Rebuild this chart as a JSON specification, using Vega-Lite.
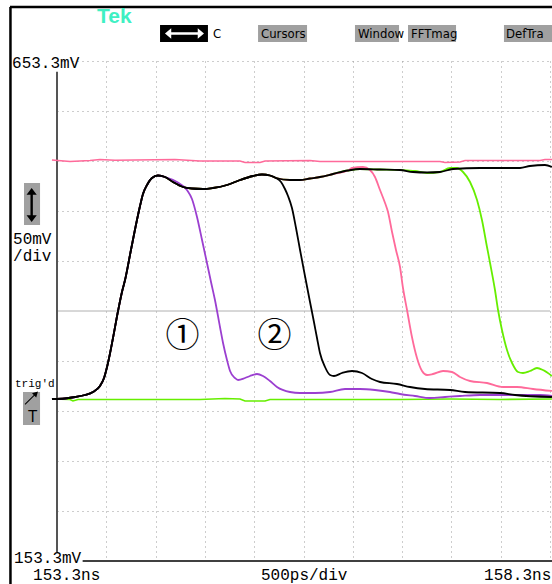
{
  "$schema": "https://vega.github.io/schema/vega-lite/v6.json",
  "width": 493,
  "height": 500,
  "autosize": {"type": "none"},
  "padding": {"left": 57, "top": 61, "right": 2, "bottom": 23},
  "background": "#ffffff",
  "config": {"view": {"stroke": null}},
  "datasets": {
    "ref_top": [
      {"t": 153.249, "v": 554.3}, {"t": 153.432, "v": 552.8}, {"t": 153.635, "v": 553.8}, {"t": 153.736, "v": 554.8},
      {"t": 153.888, "v": 554.0}, {"t": 154.497, "v": 554.8}, {"t": 154.75, "v": 553.3}, {"t": 155.156, "v": 553.3},
      {"t": 155.207, "v": 551.8}, {"t": 155.359, "v": 551.8}, {"t": 155.41, "v": 553.3}, {"t": 155.866, "v": 553.8},
      {"t": 155.967, "v": 552.8}, {"t": 157.184, "v": 552.8}, {"t": 157.235, "v": 551.8}, {"t": 157.387, "v": 552.3},
      {"t": 157.438, "v": 553.8}, {"t": 158.199, "v": 553.8}, {"t": 158.249, "v": 554.8}, {"t": 158.32, "v": 554.8}
    ],
    "ref_base": [
      {"t": 153.249, "v": 315.3}, {"t": 153.432, "v": 314.8}, {"t": 153.462, "v": 313.3}, {"t": 153.513, "v": 314.8},
      {"t": 154.75, "v": 314.8}, {"t": 155.004, "v": 315.8}, {"t": 155.156, "v": 315.3}, {"t": 155.207, "v": 313.3},
      {"t": 155.41, "v": 313.3}, {"t": 155.46, "v": 314.8}, {"t": 156.272, "v": 314.8}, {"t": 156.779, "v": 314.8},
      {"t": 157.286, "v": 315.3}, {"t": 157.793, "v": 314.8}, {"t": 158.32, "v": 315.3}
    ],
    "p1": [
      {"t": 153.249, "v": 315.3}, {"t": 153.381, "v": 315.8}, {"t": 153.483, "v": 317.3}, {"t": 153.584, "v": 319.3},
      {"t": 153.665, "v": 322.3}, {"t": 153.736, "v": 328.3}, {"t": 153.777, "v": 336.3}, {"t": 153.817, "v": 351.3},
      {"t": 153.868, "v": 376.3}, {"t": 153.919, "v": 403.3}, {"t": 153.959, "v": 422.3}, {"t": 153.99, "v": 434.3},
      {"t": 154.05, "v": 464.3}, {"t": 154.111, "v": 494.3}, {"t": 154.142, "v": 508.3}, {"t": 154.172, "v": 520.3},
      {"t": 154.213, "v": 529.3}, {"t": 154.263, "v": 536.3}, {"t": 154.324, "v": 538.8},
      {"t": 154.395, "v": 537.3}, {"t": 154.517, "v": 532.3}, {"t": 154.618, "v": 524.3}, {"t": 154.669, "v": 515.3},
      {"t": 154.72, "v": 497.3}, {"t": 154.771, "v": 474.3}, {"t": 154.821, "v": 451.3}, {"t": 154.862, "v": 432.3},
      {"t": 154.902, "v": 414.3}, {"t": 154.953, "v": 387.3}, {"t": 154.984, "v": 371.3}, {"t": 155.024, "v": 354.3},
      {"t": 155.055, "v": 343.3}, {"t": 155.105, "v": 336.3}, {"t": 155.136, "v": 334.3}, {"t": 155.207, "v": 336.3},
      {"t": 155.257, "v": 338.3}, {"t": 155.328, "v": 340.3}, {"t": 155.389, "v": 338.3}, {"t": 155.46, "v": 333.3},
      {"t": 155.531, "v": 327.3}, {"t": 155.663, "v": 322.3}, {"t": 155.765, "v": 321.3}, {"t": 155.917, "v": 321.3},
      {"t": 156.069, "v": 322.3}, {"t": 156.221, "v": 325.3}, {"t": 156.373, "v": 325.3}, {"t": 156.525, "v": 324.3},
      {"t": 156.677, "v": 322.3}, {"t": 156.779, "v": 320.3}, {"t": 156.931, "v": 318.3}, {"t": 157.083, "v": 316.3},
      {"t": 157.235, "v": 317.3}, {"t": 157.387, "v": 318.3}, {"t": 157.59, "v": 319.3}, {"t": 157.793, "v": 319.3},
      {"t": 157.996, "v": 319.3}, {"t": 158.199, "v": 319.3}, {"t": 158.32, "v": 318.3}
    ],
    "p2": [
      {"t": 153.249, "v": 315.3}, {"t": 153.381, "v": 315.8}, {"t": 153.483, "v": 317.3}, {"t": 153.584, "v": 319.3},
      {"t": 153.665, "v": 322.3}, {"t": 153.736, "v": 328.3}, {"t": 153.777, "v": 336.3}, {"t": 153.817, "v": 351.3},
      {"t": 153.868, "v": 376.3}, {"t": 153.919, "v": 403.3}, {"t": 153.959, "v": 422.3}, {"t": 153.99, "v": 434.3},
      {"t": 154.05, "v": 464.3}, {"t": 154.111, "v": 494.3}, {"t": 154.142, "v": 508.3}, {"t": 154.172, "v": 520.3},
      {"t": 154.213, "v": 529.3}, {"t": 154.263, "v": 536.3}, {"t": 154.324, "v": 538.8},
      {"t": 154.395, "v": 537.3}, {"t": 154.476, "v": 532.3}, {"t": 154.578, "v": 527.3}, {"t": 154.669, "v": 525.8},
      {"t": 154.781, "v": 525.3}, {"t": 154.882, "v": 526.3}, {"t": 155.024, "v": 529.3}, {"t": 155.156, "v": 534.3},
      {"t": 155.288, "v": 538.3}, {"t": 155.379, "v": 539.8}, {"t": 155.46, "v": 538.8}, {"t": 155.521, "v": 536.3},
      {"t": 155.572, "v": 532.3}, {"t": 155.612, "v": 525.3}, {"t": 155.643, "v": 518.3}, {"t": 155.683, "v": 506.3},
      {"t": 155.724, "v": 486.3}, {"t": 155.765, "v": 464.3}, {"t": 155.815, "v": 438.3}, {"t": 155.866, "v": 412.3},
      {"t": 155.906, "v": 392.3}, {"t": 155.937, "v": 376.3}, {"t": 155.967, "v": 361.3}, {"t": 156.018, "v": 347.3},
      {"t": 156.069, "v": 339.3}, {"t": 156.109, "v": 338.3}, {"t": 156.19, "v": 341.3}, {"t": 156.292, "v": 343.3},
      {"t": 156.393, "v": 341.3}, {"t": 156.494, "v": 335.3}, {"t": 156.576, "v": 332.3}, {"t": 156.748, "v": 330.3},
      {"t": 156.88, "v": 327.3}, {"t": 157.032, "v": 325.3}, {"t": 157.286, "v": 324.3}, {"t": 157.438, "v": 322.3},
      {"t": 157.793, "v": 321.3}, {"t": 157.945, "v": 319.3}, {"t": 158.32, "v": 317.3}
    ],
    "p3": [
      {"t": 153.249, "v": 315.3}, {"t": 153.381, "v": 315.8}, {"t": 153.483, "v": 317.3}, {"t": 153.584, "v": 319.3},
      {"t": 153.665, "v": 322.3}, {"t": 153.736, "v": 328.3}, {"t": 153.777, "v": 336.3}, {"t": 153.817, "v": 351.3},
      {"t": 153.868, "v": 376.3}, {"t": 153.919, "v": 403.3}, {"t": 153.959, "v": 422.3}, {"t": 153.99, "v": 434.3},
      {"t": 154.05, "v": 464.3}, {"t": 154.111, "v": 494.3}, {"t": 154.142, "v": 508.3}, {"t": 154.172, "v": 520.3},
      {"t": 154.213, "v": 529.3}, {"t": 154.263, "v": 536.3}, {"t": 154.324, "v": 538.8},
      {"t": 154.395, "v": 537.3}, {"t": 154.476, "v": 532.3}, {"t": 154.578, "v": 527.3}, {"t": 154.669, "v": 525.8},
      {"t": 154.781, "v": 525.3}, {"t": 154.882, "v": 526.3}, {"t": 155.024, "v": 529.3}, {"t": 155.156, "v": 534.3},
      {"t": 155.288, "v": 538.3}, {"t": 155.379, "v": 539.8}, {"t": 155.46, "v": 538.8}, {"t": 155.521, "v": 536.3},
      {"t": 155.663, "v": 534.3}, {"t": 155.765, "v": 534.3}, {"t": 155.866, "v": 535.8}, {"t": 155.967, "v": 537.3},
      {"t": 156.099, "v": 540.3}, {"t": 156.251, "v": 543.8},
      {"t": 156.292, "v": 546.3}, {"t": 156.403, "v": 547.3}, {"t": 156.474, "v": 544.3}, {"t": 156.525, "v": 537.3},
      {"t": 156.576, "v": 524.3}, {"t": 156.627, "v": 511.3}, {"t": 156.657, "v": 502.3}, {"t": 156.698, "v": 482.3},
      {"t": 156.738, "v": 464.3}, {"t": 156.779, "v": 447.3}, {"t": 156.809, "v": 426.3}, {"t": 156.85, "v": 404.3},
      {"t": 156.9, "v": 377.3}, {"t": 156.951, "v": 356.3}, {"t": 157.002, "v": 343.3}, {"t": 157.053, "v": 339.3},
      {"t": 157.113, "v": 340.3}, {"t": 157.215, "v": 343.3}, {"t": 157.306, "v": 342.3}, {"t": 157.387, "v": 337.3},
      {"t": 157.489, "v": 333.3}, {"t": 157.661, "v": 331.3}, {"t": 157.823, "v": 327.3}, {"t": 157.965, "v": 327.3},
      {"t": 158.128, "v": 325.3}, {"t": 158.32, "v": 323.3}
    ],
    "p4": [
      {"t": 153.249, "v": 315.3}, {"t": 153.381, "v": 315.8}, {"t": 153.483, "v": 317.3}, {"t": 153.584, "v": 319.3},
      {"t": 153.665, "v": 322.3}, {"t": 153.736, "v": 328.3}, {"t": 153.777, "v": 336.3}, {"t": 153.817, "v": 351.3},
      {"t": 153.868, "v": 376.3}, {"t": 153.919, "v": 403.3}, {"t": 153.959, "v": 422.3}, {"t": 153.99, "v": 434.3},
      {"t": 154.05, "v": 464.3}, {"t": 154.111, "v": 494.3}, {"t": 154.142, "v": 508.3}, {"t": 154.172, "v": 520.3},
      {"t": 154.213, "v": 529.3}, {"t": 154.263, "v": 536.3}, {"t": 154.324, "v": 538.8},
      {"t": 154.395, "v": 537.3}, {"t": 154.476, "v": 532.3}, {"t": 154.578, "v": 527.3}, {"t": 154.669, "v": 525.8},
      {"t": 154.781, "v": 525.3}, {"t": 154.882, "v": 526.3}, {"t": 155.024, "v": 529.3}, {"t": 155.156, "v": 534.3},
      {"t": 155.288, "v": 538.3}, {"t": 155.379, "v": 539.8}, {"t": 155.46, "v": 538.8}, {"t": 155.521, "v": 536.3},
      {"t": 155.663, "v": 534.3}, {"t": 155.765, "v": 534.3}, {"t": 155.866, "v": 535.8}, {"t": 155.967, "v": 537.3},
      {"t": 156.099, "v": 540.3}, {"t": 156.251, "v": 543.8},
      {"t": 156.373, "v": 545.3}, {"t": 156.576, "v": 544.8}, {"t": 156.779, "v": 544.3}, {"t": 156.931, "v": 543.3},
      {"t": 157.053, "v": 541.3}, {"t": 157.184, "v": 542.3}, {"t": 157.286, "v": 546.3}, {"t": 157.357, "v": 546.3},
      {"t": 157.418, "v": 542.3}, {"t": 157.489, "v": 532.3}, {"t": 157.56, "v": 514.3}, {"t": 157.61, "v": 494.3},
      {"t": 157.661, "v": 467.3}, {"t": 157.692, "v": 451.3}, {"t": 157.742, "v": 424.3}, {"t": 157.773, "v": 404.3},
      {"t": 157.813, "v": 384.3}, {"t": 157.864, "v": 364.3}, {"t": 157.915, "v": 351.3}, {"t": 157.976, "v": 342.3},
      {"t": 158.026, "v": 341.3}, {"t": 158.097, "v": 343.3}, {"t": 158.168, "v": 346.3}, {"t": 158.229, "v": 344.3},
      {"t": 158.32, "v": 338.3}
    ],
    "p5": [
      {"t": 153.249, "v": 315.3}, {"t": 153.381, "v": 315.8}, {"t": 153.483, "v": 317.3}, {"t": 153.584, "v": 319.3},
      {"t": 153.665, "v": 322.3}, {"t": 153.736, "v": 328.3}, {"t": 153.777, "v": 336.3}, {"t": 153.817, "v": 351.3},
      {"t": 153.868, "v": 376.3}, {"t": 153.919, "v": 403.3}, {"t": 153.959, "v": 422.3}, {"t": 153.99, "v": 434.3},
      {"t": 154.05, "v": 464.3}, {"t": 154.111, "v": 494.3}, {"t": 154.142, "v": 508.3}, {"t": 154.172, "v": 520.3},
      {"t": 154.213, "v": 529.3}, {"t": 154.263, "v": 536.3}, {"t": 154.324, "v": 538.8},
      {"t": 154.395, "v": 537.3}, {"t": 154.476, "v": 532.3}, {"t": 154.578, "v": 527.3}, {"t": 154.669, "v": 525.8},
      {"t": 154.781, "v": 525.3}, {"t": 154.882, "v": 526.3}, {"t": 155.024, "v": 529.3}, {"t": 155.156, "v": 534.3},
      {"t": 155.288, "v": 538.3}, {"t": 155.379, "v": 539.8}, {"t": 155.46, "v": 538.8}, {"t": 155.521, "v": 536.3},
      {"t": 155.663, "v": 534.3}, {"t": 155.765, "v": 534.3}, {"t": 155.866, "v": 535.8}, {"t": 155.967, "v": 537.3},
      {"t": 156.099, "v": 540.3}, {"t": 156.251, "v": 543.8},
      {"t": 156.373, "v": 545.3}, {"t": 156.576, "v": 544.8}, {"t": 156.779, "v": 544.3}, {"t": 156.91, "v": 542.3},
      {"t": 157.053, "v": 541.8}, {"t": 157.184, "v": 542.3}, {"t": 157.316, "v": 545.3}, {"t": 157.59, "v": 546.3},
      {"t": 157.996, "v": 546.3}, {"t": 158.097, "v": 548.3}, {"t": 158.249, "v": 549.3}, {"t": 158.32, "v": 547.3}
    ],
    "rules": [
      {"kind": "center", "t": 153.3, "t2": 158.3, "v": 403.3, "v2": 403.3},
      {"kind": "axis", "t": 153.3, "t2": 153.3, "v": 642.6, "v2": 162.3},
      {"kind": "base", "t": 153.56, "t2": 158.4, "v": 153.3, "v2": 153.3},
      {"kind": "frame", "t": 152.823, "t2": 158.4, "v": 707.3, "v2": 707.3},
      {"kind": "frame", "t": 152.828, "t2": 152.828, "v": 707.3, "v2": 100}
    ],
    "boxes": [
      {"kind": "menu", "t": 155.339, "t2": 155.836, "v": 689.3, "v2": 672.3},
      {"kind": "menu", "t": 156.322, "t2": 156.769, "v": 689.3, "v2": 672.3},
      {"kind": "menu", "t": 156.86, "t2": 157.347, "v": 689.3, "v2": 672.3},
      {"kind": "menu", "t": 157.833, "t2": 158.4, "v": 689.3, "v2": 672.3},
      {"kind": "menu", "t": 152.965, "t2": 153.128, "v": 531.3, "v2": 489.3},
      {"kind": "menu", "t": 152.955, "t2": 153.128, "v": 322.3, "v2": 289.3},
      {"kind": "select", "t": 154.345, "t2": 154.831, "v": 689.3, "v2": 672.3}
    ],
    "glyphs": [
      {"kind": "horizontal", "t": 154.593, "v": 680.8},
      {"kind": "vertical", "t": 153.043, "v": 509.3},
      {"kind": "diagonal", "t": 153.036, "v": 315.8}
    ],
    "labels": [
      {"kind": "scale", "text": "653.3mV", "t": 152.844, "v": 651.3},
      {"kind": "scale", "text": "153.3mV", "t": 152.864, "v": 156.8},
      {"kind": "scale", "text": "153.3ns", "t": 153.057, "v": 139.8},
      {"kind": "scale", "text": "500ps/div", "t": 155.369, "v": 139.8},
      {"kind": "scale", "text": "158.3ns", "t": 157.631, "v": 139.8},
      {"kind": "scale", "text": "50mV", "t": 152.854, "v": 475.8},
      {"kind": "scale", "text": "/div", "t": 152.854, "v": 458.6},
      {"kind": "small", "text": "trig'd", "t": 152.874, "v": 330.3},
      {"kind": "menu", "text": "C", "t": 154.882, "v": 680.3},
      {"kind": "menu", "text": "Cursors", "t": 155.369, "v": 680.8},
      {"kind": "menu", "text": "Window", "t": 156.353, "v": 680.8},
      {"kind": "menu", "text": "FFTmag", "t": 156.89, "v": 680.8},
      {"kind": "menu", "text": "DefTra", "t": 157.854, "v": 680.8},
      {"kind": "trigger", "text": "T", "t": 153.052, "v": 297.8},
      {"kind": "logo", "text": "Tek", "t": 153.706, "v": 697.3},
      {"kind": "marker", "text": "①", "t": 154.573, "v": 377.3},
      {"kind": "marker", "text": "②", "t": 155.506, "v": 377.3}
    ]
  },
  "encoding": {
    "x": {
      "field": "t",
      "type": "quantitative",
      "scale": {"domain": [153.3, 158.3], "nice": false, "zero": false},
      "axis": {
        "values": [153.8, 154.3, 154.8, 155.3, 155.8, 156.3, 156.8, 157.3, 157.8, 158.3],
        "grid": true, "gridDash": [1, 4], "gridColor": "#9a9a9a", "gridWidth": 1,
        "labels": false, "ticks": false, "domain": false, "title": null
      }
    },
    "y": {
      "field": "v",
      "type": "quantitative",
      "scale": {"domain": [153.3, 653.3], "nice": false, "zero": false},
      "axis": {
        "values": [203.3, 253.3, 303.3, 353.3, 453.3, 503.3, 553.3, 603.3, 653.3],
        "grid": true, "gridDash": [1, 4], "gridColor": "#9a9a9a", "gridWidth": 1,
        "labels": false, "ticks": false, "domain": false, "title": null
      }
    }
  },
  "layer": [
    {
      "data": {"name": "rules"},
      "transform": [{"filter": "datum.kind === 'center'"}],
      "mark": {"type": "rule", "color": "#b0b0b0", "strokeWidth": 1},
      "encoding": {"x2": {"field": "t2"}, "y2": {"field": "v2"}}
    },
    {
      "data": {"name": "rules"},
      "transform": [{"filter": "datum.kind === 'axis'"}],
      "mark": {"type": "rule", "color": "#555555", "strokeWidth": 2},
      "encoding": {"x2": {"field": "t2"}, "y2": {"field": "v2"}}
    },
    {
      "data": {"name": "rules"},
      "transform": [{"filter": "datum.kind === 'base'"}],
      "mark": {"type": "rule", "color": "#000000", "strokeWidth": 1.5},
      "encoding": {"x2": {"field": "t2"}, "y2": {"field": "v2"}}
    },
    {
      "data": {"name": "rules"},
      "transform": [{"filter": "datum.kind === 'frame'"}],
      "mark": {"type": "rule", "color": "#000000", "strokeWidth": 2.5},
      "encoding": {"x2": {"field": "t2"}, "y2": {"field": "v2"}}
    },
    {
      "data": {"name": "boxes"},
      "transform": [{"filter": "datum.kind === 'menu'"}],
      "mark": {"type": "rect", "color": "#a0a0a0"},
      "encoding": {"x2": {"field": "t2"}, "y2": {"field": "v2"}}
    },
    {
      "data": {"name": "boxes"},
      "transform": [{"filter": "datum.kind === 'select'"}],
      "mark": {"type": "rect", "color": "#000000"},
      "encoding": {"x2": {"field": "t2"}, "y2": {"field": "v2"}}
    },
    {
      "data": {"name": "glyphs"},
      "transform": [{"filter": "datum.kind === 'horizontal'"}],
      "mark": {
        "type": "point", "filled": true, "color": "#ffffff", "opacity": 1, "size": 1521,
        "shape": "M-1,0 L-0.68,-0.27 L-0.68,-0.07 L0.68,-0.07 L0.68,-0.27 L1,0 L0.68,0.27 L0.68,0.07 L-0.68,0.07 L-0.68,0.27 Z"
      }
    },
    {
      "data": {"name": "glyphs"},
      "transform": [{"filter": "datum.kind === 'vertical'"}],
      "mark": {
        "type": "point", "filled": true, "color": "#000000", "opacity": 1, "size": 1156,
        "shape": "M0,-1 L-0.3,-0.6 L-0.07,-0.6 L-0.07,0.6 L-0.3,0.6 L0,1 L0.3,0.6 L0.07,0.6 L0.07,-0.6 L0.3,-0.6 Z"
      }
    },
    {
      "data": {"name": "glyphs"},
      "transform": [{"filter": "datum.kind === 'diagonal'"}],
      "mark": {
        "type": "point", "filled": true, "color": "#000000", "opacity": 1, "size": 196,
        "shape": "M1,-1 L0.75,-0.15 L0.5,-0.4 L-0.8,0.9 L-0.9,0.8 L0.4,-0.5 L0.15,-0.75 Z"
      }
    },
    {
      "data": {"name": "labels"},
      "transform": [{"filter": "datum.kind === 'scale'"}],
      "mark": {"type": "text", "font": "Liberation Mono", "fontSize": 16, "align": "left", "baseline": "middle", "color": "#000000"},
      "encoding": {"text": {"field": "text"}}
    },
    {
      "data": {"name": "labels"},
      "transform": [{"filter": "datum.kind === 'small'"}],
      "mark": {"type": "text", "font": "Liberation Mono", "fontSize": 11, "align": "left", "baseline": "middle", "color": "#000000"},
      "encoding": {"text": {"field": "text"}}
    },
    {
      "data": {"name": "labels"},
      "transform": [{"filter": "datum.kind === 'menu'"}],
      "mark": {"type": "text", "font": "Liberation Sans Narrow, DejaVu Sans Condensed, DejaVu Sans", "fontSize": 13, "align": "left", "baseline": "middle", "color": "#000000"},
      "encoding": {"text": {"field": "text"}}
    },
    {
      "data": {"name": "labels"},
      "transform": [{"filter": "datum.kind === 'trigger'"}],
      "mark": {"type": "text", "font": "Liberation Sans Narrow, DejaVu Sans Condensed, DejaVu Sans", "fontSize": 16, "align": "center", "baseline": "middle", "color": "#000000"},
      "encoding": {"text": {"field": "text"}}
    },
    {
      "data": {"name": "labels"},
      "transform": [{"filter": "datum.kind === 'logo'"}],
      "mark": {"type": "text", "font": "Liberation Sans", "fontSize": 21, "fontWeight": "bold", "align": "left", "baseline": "middle", "color": "#3ff0c3"},
      "encoding": {"text": {"field": "text"}}
    },
    {
      "data": {"name": "labels"},
      "transform": [{"filter": "datum.kind === 'marker'"}],
      "mark": {"type": "text", "font": "Noto Sans CJK JP", "fontSize": 34, "align": "center", "baseline": "middle", "color": "#000000"},
      "encoding": {"text": {"field": "text"}}
    },
    {
      "data": {"name": "ref_top"},
      "mark": {"type": "line", "color": "#ff6a9a", "strokeWidth": 1.6}
    },
    {
      "data": {"name": "ref_base"},
      "mark": {"type": "line", "color": "#66ee00", "strokeWidth": 1.6}
    },
    {
      "data": {"name": "p4"},
      "mark": {"type": "line", "color": "#66ee00", "strokeWidth": 1.8, "interpolate": "monotone"}
    },
    {
      "data": {"name": "p3"},
      "mark": {"type": "line", "color": "#ff6a9a", "strokeWidth": 1.8, "interpolate": "monotone"}
    },
    {
      "data": {"name": "p1"},
      "mark": {"type": "line", "color": "#9b3fd0", "strokeWidth": 1.8, "interpolate": "monotone"}
    },
    {
      "data": {"name": "p5"},
      "mark": {"type": "line", "color": "#000000", "strokeWidth": 1.8, "interpolate": "monotone"}
    },
    {
      "data": {"name": "p2"},
      "mark": {"type": "line", "color": "#000000", "strokeWidth": 1.8, "interpolate": "monotone"}
    }
  ]
}
